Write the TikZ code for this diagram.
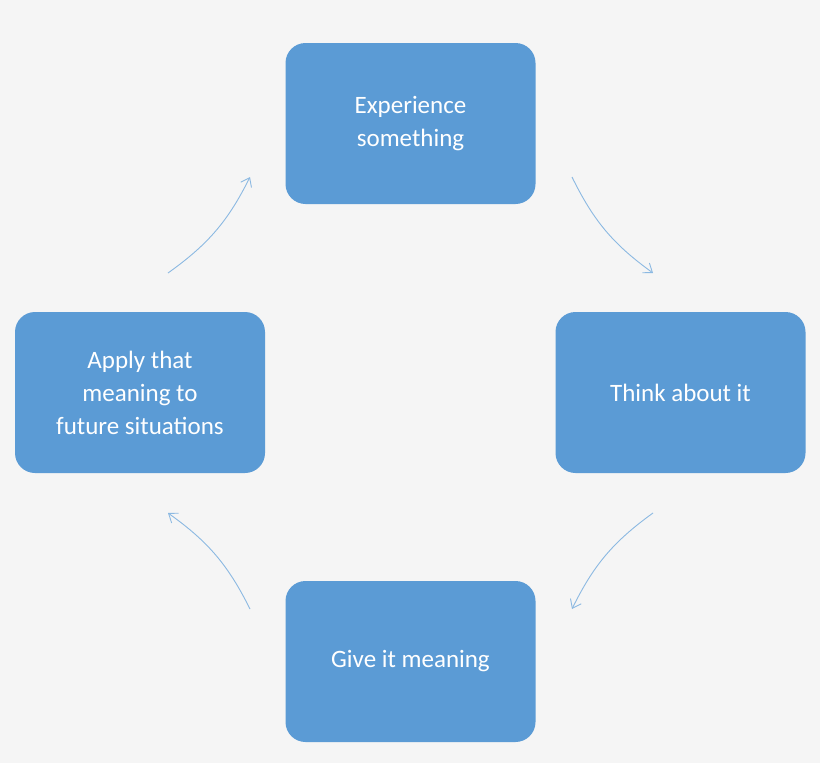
\documentclass[tikz,border=0pt]{standalone}
\usepackage{fontspec}
\setmainfont{Carlito}
\usetikzlibrary{arrows.meta}
\definecolor{bg}{HTML}{F5F5F5}
\definecolor{boxc}{HTML}{5B9BD5}
\begin{document}
\begin{tikzpicture}[x=1pt,y=-1pt,
  box/.style={fill=boxc,draw=none,rounded corners=20pt,minimum width=250pt,minimum height=161pt,
    text=white,align=center,font=\fontsize{25}{33}\selectfont},
  conn/.style={draw=boxc!70,line width=0.9pt,-{Straight Barb[length=8pt,width=12pt]}}]
\fill[bg] (0,0) rectangle (820,763);
\useasboundingbox (0,0) rectangle (820,763);
\node[box] (top) at (410.5,123.5) {Experience\\something};
\node[box] (right) at (680.5,392.5) {Think about it};
\node[box] (bottom) at (410.5,661.5) {Give it meaning};
\node[box] (left) at (140,392.5) {Apply that\\meaning to\\future situations};
\coordinate (a1) at (572,177); \coordinate (a2) at (653,273);
\coordinate (b1) at (653,513); \coordinate (b2) at (572,609);
\coordinate (c1) at (250,609); \coordinate (c2) at (168,513);
\coordinate (d1) at (168,273); \coordinate (d2) at (250,177);
\draw[conn] (a1) to[bend right=14] (a2);
\draw[conn] (b1) to[bend right=14] (b2);
\draw[conn] (c1) to[bend right=14] (c2);
\draw[conn] (d1) to[bend right=14] (d2);
\end{tikzpicture}
\end{document}
